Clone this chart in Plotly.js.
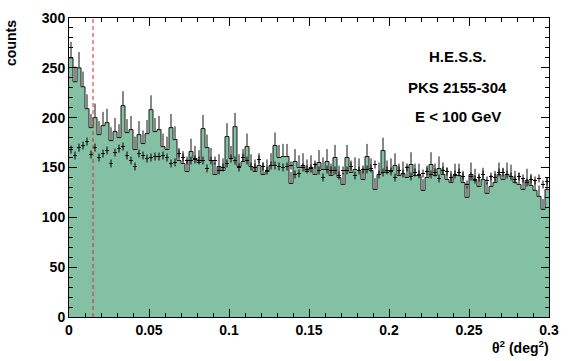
<!DOCTYPE html>
<html>
<head>
<meta charset="utf-8">
<script src="https://cdn.plot.ly/plotly-3.0.1.min.js"></script>
<style>
  body { margin: 0; background: #fff; }
  #plot { width: 581px; height: 361px; }
</style>
</head>
<body>
<div id="plot"></div>
<script>
// theta^2 histogram, 120 bins of 0.0025 deg^2 from 0 to 0.3
var binWidth = 0.0025;
var thetaCut = 0.015; // dashed red line

// ON counts per bin (green histogram)
var onCounts = [
  260, 236, 250, 231, 209, 190, 200, 183, 192, 195,
  177, 186, 180, 212, 185, 188, 168, 183, 174, 184,
  208, 186, 188, 171, 168, 190, 178, 157, 154, 146,
  166, 159, 155, 189, 170, 157, 143, 151, 147, 181,
  159, 191, 151, 156, 171, 151, 146, 152, 143, 146,
  152, 172, 160, 161, 161, 134, 156, 150, 152, 146,
  150, 143, 155, 148, 156, 142, 160, 140, 133, 160,
  145, 148, 147, 138, 161, 147, 128, 143, 167, 145,
  147, 152, 142, 144, 140, 153, 142, 142, 127, 140,
  153, 142, 149, 143, 138, 135, 142, 142, 135, 120,
  143, 137, 131, 138, 124, 131, 135, 143, 138, 143,
  141, 135, 133, 128, 137, 132, 127, 121, 108, 128
];

// normalised OFF counts per bin (black crosses)
var offCounts = [
  168, 162, 170, 172, 176, 163, 170, 160, 164, 167,
  154, 165, 169, 171, 162, 157, 151, 164, 162, 159,
  160, 161, 161, 162, 160, 154, 155, 164, 160, 157,
  157, 158, 157, 157, 149, 157, 157, 147, 150, 154,
  159, 157, 150, 160, 157, 151, 150, 158, 151, 147,
  152, 152, 151, 150, 151, 152, 143, 144, 150, 148,
  149, 153, 147, 140, 148, 147, 147, 142, 147, 147,
  151, 142, 147, 148, 148, 149, 153, 143, 145, 147,
  146, 140, 147, 144, 150, 141, 145, 143, 144, 146,
  143, 145, 139, 147, 146, 140, 143, 145, 141, 133,
  141, 138, 140, 143, 137, 141, 140, 145, 145, 143,
  141, 138, 141, 139, 135, 138, 137, 139, 133, 136
];
var offErr = 4;

var labels = ["H.E.S.S.", "PKS 2155-304", "E < 100 GeV"];

// bin edges and centres
var edges = [];
var centres = [];
for (let i = 0; i < onCounts.length; i++) {
    edges.push(i * binWidth);
    centres.push((i + 0.5) * binWidth);
}
edges.push(onCounts.length * binWidth);
var stepY = onCounts.concat([onCounts[onCounts.length - 1]]);

// poisson errors on the ON counts (only the part above the bar shows)
var onErr = onCounts.map(function (n) { return Math.sqrt(n); });

var green = "rgb(132,193,164)";

var histTrace = {
    x: edges,
    y: stepY,
    type: "scatter",
    mode: "lines",
    line: { shape: "hv", color: "#1a1a1a", width: 1 },
    fill: "tozeroy",
    fillcolor: green,
    hoverinfo: "skip"
};

var onErrTrace = {
    x: centres,
    y: onCounts,
    type: "scatter",
    mode: "markers",
    marker: { size: 2, color: "rgba(0,0,0,0)" },
    error_y: { type: "data", symmetric: false, array: onErr, arrayminus: onErr.map(function () { return 0; }),
               width: 0, thickness: 1, color: "#111" }
};

var offTrace = {
    x: centres,
    y: offCounts,
    type: "scatter",
    mode: "markers",
    marker: { size: 1, color: "#000" },
    error_y: { type: "constant", value: offErr, width: 0, thickness: 1, color: "#000" },
    error_x: { type: "constant", value: binWidth / 2, width: 0, thickness: 1, color: "#000" }
};

var tickFont = { family: "Liberation Sans, Arial, sans-serif", size: 14, color: "#000", weight: "bold" };
var textFont = { family: "Liberation Sans, Arial, sans-serif", size: 15, color: "#000", weight: "bold" };

function label(txt, y) {
    return { text: txt, xref: "paper", yref: "paper", x: 0.81, y: y,
             xanchor: "center", yanchor: "middle", showarrow: false, font: textFont };
}

var layout = {
    width: 581,
    height: 361,
    margin: { l: 69, r: 32, t: 18, b: 44, pad: 0 },
    paper_bgcolor: "#fff",
    plot_bgcolor: "#fff",
    showlegend: false,
    xaxis: {
        range: [0, 0.3],
        tick0: 0,
        dtick: 0.05,
        ticks: "inside",
        ticklen: 8,
        tickwidth: 1,
        tickcolor: "#000",
        minor: { dtick: 0.01, ticks: "inside", ticklen: 4, tickcolor: "#000" },
        showline: true,
        linecolor: "#000",
        linewidth: 1,
        mirror: "allticks",
        showgrid: false,
        zeroline: false,
        tickfont: tickFont
    },
    yaxis: {
        range: [0, 300],
        tick0: 0,
        dtick: 50,
        ticks: "inside",
        ticklen: 8,
        tickwidth: 1,
        tickcolor: "#000",
        minor: { dtick: 10, ticks: "inside", ticklen: 4, tickcolor: "#000" },
        showline: true,
        linecolor: "#000",
        linewidth: 1,
        mirror: "allticks",
        showgrid: false,
        zeroline: false,
        tickfont: tickFont
    },
    shapes: [{
        type: "line",
        xref: "x", yref: "paper",
        x0: thetaCut, x1: thetaCut, y0: 0, y1: 1,
        line: { color: "#d62828", width: 1, dash: "4px,3px" }
    }],
    annotations: [
        label(labels[0], 0.872),
        label(labels[1], 0.768),
        label(labels[2], 0.671),
        {
            text: "θ<sup>2</sup> (deg<sup>2</sup>)",
            xref: "paper", yref: "paper", x: 1.005, y: -0.1,
            xanchor: "right", yanchor: "middle", showarrow: false, font: tickFont
        },
        {
            text: "counts",
            xref: "paper", yref: "paper", x: -0.121, y: 1.0,
            xanchor: "center", yanchor: "top", textangle: -90, showarrow: false, font: tickFont
        }
    ]
};

Plotly.newPlot("plot", [histTrace, onErrTrace, offTrace], layout, { displayModeBar: false, staticPlot: true });
</script>
</body>
</html>
